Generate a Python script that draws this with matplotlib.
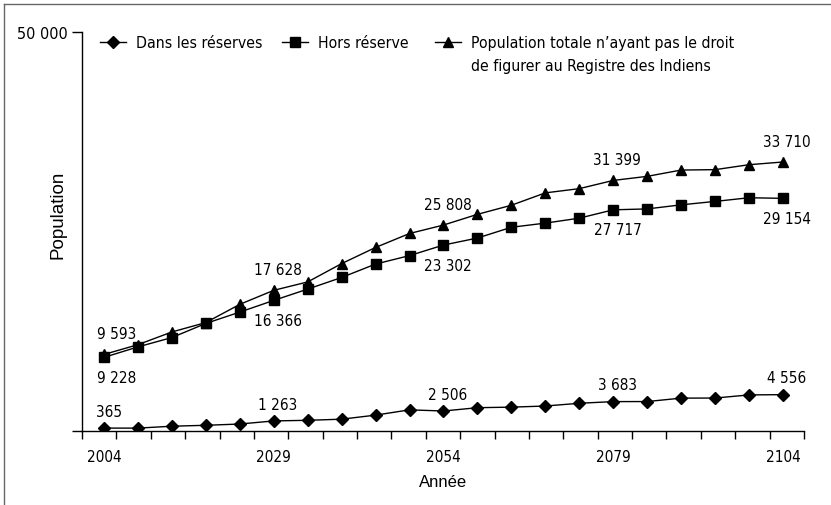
import matplotlib
matplotlib.use("Agg")
import matplotlib.pyplot as plt
from matplotlib import font_manager as fm
from matplotlib.legend import Legend
from matplotlib.lines import Line2D
import numpy as np

# Data (every 5 years, 2004-2104)
years = list(range(2004, 2105, 5))
dans_reserves = [365, 360, 600, 715, 875, 1263, 1340, 1480, 1990, 2650, 2506,
                 2920, 2990, 3130, 3475, 3683, 3690, 4120, 4130, 4520, 4556]
hors_reserve = [9228, 10540, 11710, 13480, 14900, 16366, 17780, 19240, 20920, 21980, 23302,
                24180, 25530, 26050, 26670, 27717, 27830, 28340, 28770, 29230, 29154]
pop_totale = [9593, 10820, 12410, 13590, 15870, 17628, 18680, 20980, 23000, 24750, 25808,
              27150, 28290, 29840, 30370, 31399, 31910, 32700, 32750, 33370, 33710]
labelled_idx = [0, 5, 10, 15, 20]

legend_labels = ["Dans les réserves", "Hors réserve",
                 "Population totale n’ayant pas le droit"]
legend_line2 = "de figurer au Registre des Indiens"

# look for a narrow / condensed face, the original uses one
narrow_file = None
for f in fm.fontManager.ttflist:
    if ("Narrow" in f.name or "Condensed" in f.name or "condensed" in str(f.stretch)) \
            and f.style == "normal" and f.weight in (400, "normal", "regular"):
        narrow_file = f.fname
        break


def nfont(size):
    if narrow_file:
        return fm.FontProperties(fname=narrow_file, size=size)
    return fm.FontProperties(family=["Liberation Sans", "DejaVu Sans"], size=size * 0.86)


REG = ["Liberation Sans", "DejaVu Sans"]

W, H = 831, 506
fig = plt.figure(figsize=(W / 100, H / 100), dpi=100)
ax = fig.add_axes([82 / W, 74 / H, 722 / W, 399 / H])

x = np.arange(len(years))
l1, = ax.plot(x, dans_reserves, color="black", lw=1.0, marker="D", ms=6)
l2, = ax.plot(x, hors_reserve, color="black", lw=1.0, marker="s", ms=6.5)
l3, = ax.plot(x, pop_totale, color="black", lw=1.0, marker="^", ms=7.5)


def fmt(v):
    return f"{v:,}".replace(",", " ")


# value labels: triangles above, squares below, diamonds above
for i in labelled_idx:
    dx = 9 if i == 0 else 3
    ax.annotate(fmt(pop_totale[i]), (x[i], pop_totale[i]), xytext=(dx, 15),
                textcoords="offset points", ha="center", va="center",
                fontproperties=nfont(11))
    ax.annotate(fmt(hors_reserve[i]), (x[i], hors_reserve[i]), xytext=(dx, -14.5),
                textcoords="offset points", ha="center", va="center",
                fontproperties=nfont(11))
    ax.annotate(fmt(dans_reserves[i]), (x[i], dans_reserves[i]),
                xytext=(4 if i == 0 else 3, 12), textcoords="offset points",
                ha="center", va="center", fontproperties=nfont(11))

xmin, xmax = -0.648, 20.62
ax.set_xlim(xmin, xmax)
ax.set_ylim(0, 50000)

ax.set_xticks(x[labelled_idx])
ax.set_xticklabels([str(years[i]) for i in labelled_idx], fontproperties=nfont(11))
ax.set_xticks(np.linspace(xmin, xmax, 22), minor=True)
ax.tick_params(axis="x", which="major", length=0, pad=13)
ax.tick_params(axis="x", which="minor", length=6, width=1, direction="out")

ax.set_yticks([0, 50000])
ax.set_yticklabels(["", "50 000"], fontproperties=nfont(11.5))
ax.tick_params(axis="y", length=7, width=1, direction="out", pad=3)

for s in ["top", "right"]:
    ax.spines[s].set_visible(False)
for s in ["left", "bottom"]:
    ax.spines[s].set_linewidth(1)

ax.set_xlabel("Année", family=REG, fontsize=12, labelpad=7)
ax.set_ylabel("Population", family=REG, fontsize=13.5)
ax.yaxis.set_label_coords(-0.022, 0.544)

# legend, one box per series
anchors = [100, 282, 435]
for line, lab, ax0 in zip([l1, l2, l3], legend_labels, anchors):
    leg = Legend(ax, [line], [lab], loc="upper left",
                 bbox_to_anchor=(ax0 / W, 1 - 36 / H), bbox_transform=fig.transFigure,
                 frameon=False, borderpad=0, borderaxespad=0, handlelength=1.66,
                 handletextpad=0.64, prop=nfont(11.3))
    ax.add_artist(leg)
fig.text(471 / W, 1 - 67 / H, legend_line2, ha="left", va="center",
         fontproperties=nfont(11.3))

# outer frame (top and left only)
fig.add_artist(Line2D([4 / W, 1], [1 - 5 / H, 1 - 5 / H], color="#666666", lw=1,
                      transform=fig.transFigure))
fig.add_artist(Line2D([4 / W, 4 / W], [0, 1 - 5 / H], color="#666666", lw=1,
                      transform=fig.transFigure))

fig.savefig("out.png", dpi=100)
